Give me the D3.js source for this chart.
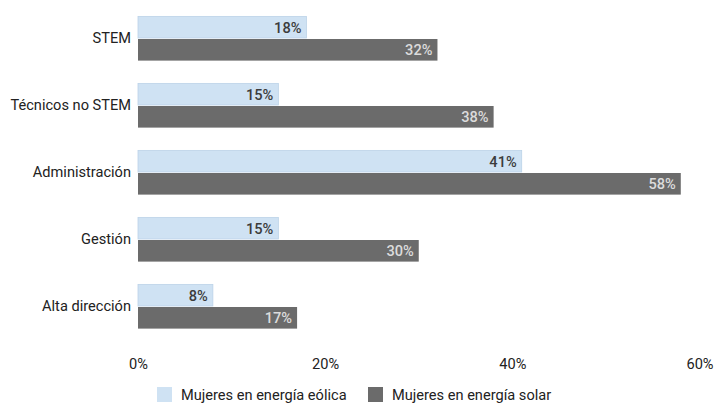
<!DOCTYPE html>
<html>
<head>
<meta charset="utf-8">
<script src="https://cdn.jsdelivr.net/npm/d3@7"></script>
<style>
  html, body { margin: 0; padding: 0; background: #fff; }
  svg { display: block; font-family: Roboto, "Noto Sans", sans-serif; }
</style>
</head>
<body>
<svg id="chart" width="714" height="403"></svg>
<script>
// Participación de mujeres por tipo de puesto
const categories = ["STEM", "Técnicos no STEM", "Administración", "Gestión", "Alta dirección"];
const eolica = [18, 15, 41, 15, 8];
const solar = [32, 38, 58, 30, 17];
const seriesNames = ["Mujeres en energía eólica", "Mujeres en energía solar"];
const tickValues = [0, 20, 40, 60];

const colors = ["#cfe2f3", "#6b6b6b"];
const labelColors = ["#3c3c3c", "#dcdcdc"];
const FS = 14.6;

const svg = d3.select("#chart");
const margin = { left: 138, right: 14.5, top: 5, bottom: 63 };
const W = 714, H = 403;

const x = d3.scaleLinear().domain([0, 60]).range([margin.left, W - margin.right]);
const y = d3.scaleBand().domain(categories).range([margin.top, H - margin.bottom]).paddingInner(0.34).paddingOuter(0.17);
const sub = d3.scaleBand().domain([0, 1]).range([0, y.bandwidth()]);

const rows = categories.map((c, i) => ({ c, v: [eolica[i], solar[i]] }));

const g = svg.append("g");
const groups = g.selectAll("g.cat").data(rows).join("g")
  .attr("transform", d => `translate(0,${y(d.c)})`);

groups.selectAll("rect").data(d => d.v.map((v, k) => ({ v, k }))).join("rect")
  .attr("x", x(0))
  .attr("y", d => sub(d.k) + (d.k === 1 ? 0.5 : 0))
  .attr("width", d => x(d.v) - x(0))
  .attr("height", sub.bandwidth() - 0.5)
  .attr("fill", d => colors[d.k])
  .attr("stroke", d => d.k === 0 ? "#bcd3e8" : "none")
  .attr("stroke-width", 0.8);

groups.selectAll("text.val").data(d => d.v.map((v, k) => ({ v, k }))).join("text")
  .attr("class", "val")
  .attr("x", d => x(d.v) - 5)
  .attr("y", d => sub(d.k) + sub.bandwidth() / 2)
  .attr("dy", "0.36em")
  .attr("text-anchor", "end")
  .attr("font-size", FS)
  .attr("font-weight", 500)
  .attr("fill", d => labelColors[d.k])
  .text(d => d.v + "%");

// Etiquetas de categoría
const yAxis = d3.axisLeft(y).tickSize(0).tickPadding(7);
const ya = svg.append("g").attr("transform", `translate(${margin.left},0)`).call(yAxis);
ya.select(".domain").remove();
ya.selectAll("text").attr("font-size", FS).attr("fill", "#222").attr("font-family", "Roboto, sans-serif");

// Eje de porcentajes
const xAxis = d3.axisBottom(x).tickValues(tickValues).tickFormat(d => d + "%").tickSize(0).tickPadding(0);
const xa = svg.append("g").attr("transform", `translate(0,359)`).call(xAxis);
xa.select(".domain").remove();
xa.selectAll("text").attr("font-size", FS).attr("fill", "#222").attr("font-family", "Roboto, sans-serif");

// Leyenda
const legendX = [157, 368];
const lg = svg.append("g").selectAll("g").data(seriesNames).join("g")
  .attr("transform", (d, i) => `translate(${legendX[i]},387)`);
lg.append("rect").attr("width", 15).attr("height", 15)
  .attr("fill", (d, i) => colors[i]);
lg.append("text").attr("x", 24).attr("y", 7.5).attr("dy", "0.36em")
  .attr("font-size", FS).attr("fill", "#222").text(d => d);
</script>
</body>
</html>
